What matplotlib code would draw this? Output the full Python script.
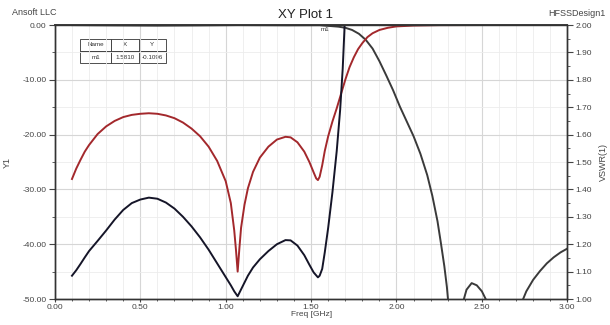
import numpy as np
import matplotlib.pyplot as plt
from matplotlib.ticker import MultipleLocator

plt.rcParams['font.family'] = ['Liberation Sans', 'DejaVu Sans']

# S11 (dB, left axis)
s11_freq = [0.10, 0.125, 0.15, 0.175, 0.20, 0.25, 0.30, 0.35, 0.40, 0.45, 0.50, 0.55,
            0.60, 0.65, 0.70, 0.75, 0.80, 0.85, 0.90, 0.95, 1.00, 1.03, 1.05, 1.06,
            1.07, 1.08, 1.09, 1.11, 1.13, 1.16, 1.20, 1.25, 1.30, 1.35, 1.38, 1.42,
            1.46, 1.49, 1.515, 1.53, 1.54, 1.55, 1.565, 1.58, 1.60, 1.625, 1.65,
            1.675, 1.70, 1.725, 1.75, 1.775, 1.80, 1.83, 1.86, 1.90, 1.95, 2.00,
            2.10, 2.25, 2.50, 3.00]
s11_db = [-28.1, -26.2, -24.6, -23.1, -21.9, -19.9, -18.5, -17.5, -16.8, -16.4, -16.2, -16.1,
          -16.2, -16.5, -17.0, -17.8, -18.9, -20.3, -22.2, -24.8, -28.5, -32.5, -37.5, -41.0,
          -45.0, -40.8, -37.0, -32.8, -29.8, -26.8, -24.2, -22.2, -20.9, -20.4, -20.5, -21.4,
          -23.1, -25.0, -26.9, -28.0, -28.3, -27.7, -25.6, -23.0, -20.3, -17.6, -15.2,
          -12.6, -10.0, -7.7, -5.9, -4.4, -3.3, -2.2, -1.5, -0.9, -0.5, -0.25,
          -0.1, -0.02, 0.0, 0.0]

# S21 (dB, left axis)
s21_freq = [0.10, 0.35, 0.60, 0.85, 1.07, 1.36, 1.55, 1.581, 1.62, 1.66, 1.70, 1.74,
            1.78, 1.82, 1.86, 1.90, 1.94, 1.98, 2.02, 2.06, 2.10, 2.14, 2.18, 2.21,
            2.24, 2.26, 2.28, 2.295, 2.31, 2.34, 2.375, 2.39, 2.41, 2.44, 2.47, 2.50,
            2.53, 2.56, 2.62, 2.70, 2.735, 2.76, 2.80, 2.84, 2.88, 2.92, 2.96, 3.00]
s21_db = [-0.01, -0.06, -0.10, -0.06, 0.0, -0.04, -0.02, -0.11, -0.2, -0.3, -0.5, -0.9,
          -1.6, -2.7, -4.3, -6.6, -9.2, -11.9, -14.9, -17.6, -20.3, -23.5, -27.4, -31.2,
          -35.8, -39.8, -44.0, -47.8, -53.0, -65.0, -55.0, -50.5, -48.3, -47.1, -47.5, -48.6,
          -50.5, -55.0, -62.0, -55.0, -50.5, -48.6, -46.5, -44.9, -43.5, -42.4, -41.5, -40.8]

# VSWR (right axis)
vswr_freq = [0.10, 0.125, 0.15, 0.175, 0.20, 0.25, 0.30, 0.35, 0.40, 0.45, 0.50, 0.55,
             0.60, 0.65, 0.70, 0.75, 0.80, 0.85, 0.90, 0.95, 1.00, 1.03, 1.05, 1.07,
             1.09, 1.11, 1.13, 1.16, 1.20, 1.25, 1.30, 1.35, 1.38, 1.42, 1.46, 1.49,
             1.515, 1.54, 1.55, 1.565, 1.58, 1.60, 1.625, 1.65, 1.67, 1.685, 1.695, 1.70]
vswr = [1.085, 1.105, 1.128, 1.152, 1.175, 1.212, 1.25, 1.29, 1.325, 1.35, 1.363, 1.37,
        1.366, 1.352, 1.33, 1.30, 1.265, 1.225, 1.18, 1.13, 1.08, 1.05, 1.028, 1.01,
        1.035, 1.06, 1.085, 1.115, 1.145, 1.175, 1.20, 1.215, 1.214, 1.195, 1.16, 1.125,
        1.097, 1.079, 1.085, 1.11, 1.17, 1.26, 1.39, 1.54, 1.69, 1.84, 1.98, 2.1]

marker_name = "m1"
marker_x = 1.5810
marker_y = -0.1096

fig = plt.figure(figsize=(6.1, 3.25), dpi=100)
ax = fig.add_axes([0.090, 0.080, 0.840, 0.843])
ax2 = ax.twinx()

# grid
ax.xaxis.set_major_locator(MultipleLocator(0.5))
ax.xaxis.set_minor_locator(MultipleLocator(0.1))
ax.yaxis.set_major_locator(MultipleLocator(10))
ax.yaxis.set_minor_locator(MultipleLocator(5))
ax.grid(True, which='major', color='#d6d6d6', lw=0.8)
ax.grid(True, which='minor', color='#ececec', lw=0.6)
ax.set_axisbelow(True)

ax.plot(s21_freq, s21_db, color='#3a3a3a', lw=1.4, zorder=3)
ax.plot(s11_freq, s11_db, color='#a3282c', lw=1.4, zorder=4)
ax2.plot(vswr_freq, vswr, color='#151528', lw=1.4)

ax.set_xlim(0, 3.0)
ax.set_ylim(-50, 0)
ax2.set_ylim(1.0, 2.0)
ax2.yaxis.set_major_locator(MultipleLocator(0.1))
ax2.yaxis.set_minor_locator(MultipleLocator(0.05))

ax.set_xticks(np.arange(0, 3.01, 0.5))
ax.set_xticklabels(['%.2f' % v for v in np.arange(0, 3.01, 0.5)])
ax.set_yticks(np.arange(-50, 1, 10))
ax.set_yticklabels(['%.2f' % v for v in np.arange(-50, 1, 10)])
ax2.set_yticks(np.arange(1.0, 2.01, 0.1))
ax2.set_yticklabels(['%.2f' % v for v in np.arange(1.0, 2.01, 0.1)])

for a in (ax, ax2):
    a.tick_params(which='both', labelsize=6, colors='#444444', direction='out')
    a.tick_params(which='major', length=4, pad=2)
    a.tick_params(which='minor', length=2)
    for s in a.spines.values():
        s.set_color('#333333')
        s.set_linewidth(1.0)
ax.tick_params(axis='x', which='major', length=2, pad=1.5)
ax.tick_params(axis='x', which='minor', length=1.5)
ax.spines['top'].set_linewidth(1.4)
ax.spines['top'].set_color('#3a3a3a')

ax.set_xlabel('Freq [GHz]', fontsize=6, color='#444444', labelpad=0)
ax.set_ylabel('Y1', fontsize=6.5, color='#444444', labelpad=8)
ax2.set_ylabel('VSWR(1)', fontsize=6.5, color='#444444', rotation=90, labelpad=5)

# marker
ax.text(marker_x, -0.4, marker_name, fontsize=4.5, ha='center', va='top', color='#333333')

# marker table
tbl = ax.table(cellText=[['Name', 'X', 'Y'],
                         [marker_name, '%.4f' % marker_x, '%.4f' % marker_y]],
               bbox=[0.049, 0.86, 0.168, 0.09], cellLoc='center',
               colWidths=[0.36, 0.32, 0.32])
tbl.auto_set_font_size(False)
tbl.set_fontsize(4.5)
for c in tbl.get_celld().values():
    c.set_edgecolor('#333333')
    c.set_linewidth(0.6)
    c.get_text().set_color('#333333')

fig.text(0.02, 0.962, 'Ansoft LLC', fontsize=6.5, color='#444444', va='center')
fig.text(0.5, 0.955, 'XY Plot 1', fontsize=9.5, color='#222222', ha='center', va='center')
fig.text(0.992, 0.958, 'HFSSDesign1', fontsize=6.5, color='#444444', ha='right', va='center')

fig.savefig('out.png', dpi=100, facecolor='white')
